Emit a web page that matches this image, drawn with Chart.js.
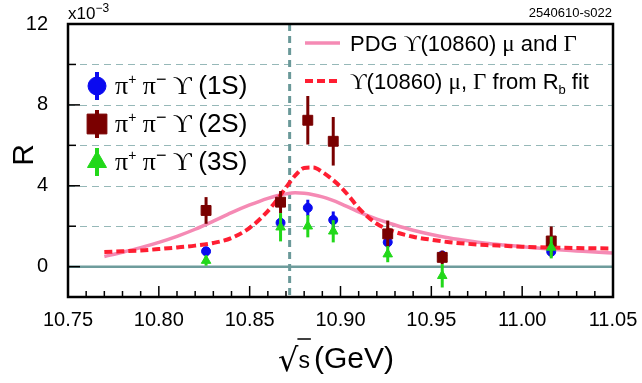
<!DOCTYPE html>
<html>
<head>
<meta charset="utf-8">
<script src="https://cdn.jsdelivr.net/npm/chart.js@4.4.0/dist/chart.umd.min.js"></script>
<style>
  html, body { margin: 0; padding: 0; background: #fff; }
  #wrap { width: 642px; height: 383px; }
</style>
</head>
<body>
<div id="wrap"><canvas id="c" width="642" height="383"></canvas></div>
<script>
// scan points (GeV) and R values in units of 1e-3
var energies = [10.826, 10.867, 10.882, 10.896, 10.926, 10.956, 11.016];
var r1S = [0.76, 2.17, 2.91, 2.31, 1.21, 0.55, 0.74];
var e1S = [0.20, 0.37, 0.40, 0.42, 0.25, 0.22, 0.25];
var r2S = [2.78, 3.19, 7.24, 6.20, 1.62, 0.46, 1.27];
var e2S = [0.66, 0.55, 1.20, 1.20, 0.66, 0.33, 0.72];
var r3S = [0.30, 1.95, 2.00, 1.75, 0.62, -0.45, 0.95];
var e3S = [0.25, 0.70, 0.55, 0.55, 0.40, 0.58, 0.54];

// line shapes: PDG mass/width and the R_b fit values
var curveX = [10.77, 10.78, 10.79, 10.80, 10.81, 10.82, 10.83, 10.84, 10.85, 10.86,
              10.865, 10.87, 10.875, 10.88, 10.885, 10.89, 10.895, 10.90, 10.905, 10.91,
              10.92, 10.93, 10.94, 10.95, 10.96, 10.97, 10.98, 10.99, 11.00, 11.01,
              11.02, 11.03, 11.04, 11.05];
var pdgCurve = [0.50, 0.71, 0.94, 1.20, 1.50, 1.85, 2.25, 2.67, 3.05, 3.38,
                3.51, 3.60, 3.65, 3.63, 3.56, 3.45, 3.30, 3.12, 2.92, 2.71,
                2.35, 2.06, 1.80, 1.59, 1.42, 1.28, 1.16, 1.07, 0.99, 0.91,
                0.84, 0.78, 0.72, 0.67];
var fitCurve = [0.72, 0.76, 0.80, 0.87, 0.95, 1.04, 1.17, 1.42, 1.92, 2.75,
                3.30, 3.92, 4.50, 4.88, 4.90, 4.68, 4.35, 3.95, 3.45, 2.90,
                2.12, 1.72, 1.48, 1.33, 1.21, 1.13, 1.07, 1.03, 0.99, 0.96,
                0.94, 0.92, 0.91, 0.90];

var xTicks = [10.75, 10.80, 10.85, 10.90, 10.95, 11.00, 11.05];
var yTicks = [0, 4, 8, 12];
var gridY = [2, 4, 6, 8, 10];
var peakMass = 10.872;

var SANS = '"Liberation Sans", Arial, Helvetica, sans-serif';
var SERIF = '"Liberation Serif", "DejaVu Serif", serif';
var C1 = '#0a0af0', C2 = '#7a0000', C3 = '#22d81a';
var PINK = '#f58ab4', RED = '#ff1e32', TEAL = '#6e9c9c';

function pts(xs, ys) {
  return xs.map(function (x, i) { return { x: x, y: ys[i] }; });
}

// text made of pieces in different fonts / offsets
function runs(ctx, x, y, parts) {
  parts.forEach(function (p) {
    ctx.font = p.f;
    ctx.fillText(p.t, x, y + (p.dy || 0));
    x += ctx.measureText(p.t).width;
  });
  return x;
}

var decor = {
  id: 'decor',
  beforeDatasetsDraw: function (chart) {
    var ctx = chart.ctx, a = chart.chartArea, xs = chart.scales.x, ys = chart.scales.y;
    ctx.save();
    ctx.strokeStyle = '#96b8b8';
    ctx.lineWidth = 1;
    ctx.setLineDash([7, 5]);
    gridY.forEach(function (v) {
      var y = Math.round(ys.getPixelForValue(v)) + 0.5;
      ctx.beginPath(); ctx.moveTo(a.left, y); ctx.lineTo(a.right, y); ctx.stroke();
    });
    // zero line
    ctx.setLineDash([]);
    ctx.strokeStyle = TEAL;
    ctx.lineWidth = 2.5;
    var y0 = ys.getPixelForValue(0);
    ctx.beginPath(); ctx.moveTo(a.left, y0); ctx.lineTo(a.right, y0); ctx.stroke();
    // resonance mass marker
    ctx.setLineDash([7, 5]);
    ctx.lineWidth = 3;
    ctx.strokeStyle = '#6a9999';
    var xm = xs.getPixelForValue(peakMass);
    ctx.beginPath(); ctx.moveTo(xm, a.top); ctx.lineTo(xm, a.bottom); ctx.stroke();
    ctx.restore();
  },
  beforeDatasetDraw: function (chart, args) {
    var ds = chart.data.datasets[args.index];
    if (!ds.errors) return;
    var ctx = chart.ctx, ys = chart.scales.y;
    var meta = chart.getDatasetMeta(args.index);
    ctx.save();
    ctx.strokeStyle = ds.borderColor;
    ctx.lineWidth = 3;
    meta.data.forEach(function (p, i) {
      var v = ds.data[i].y, e = ds.errors[i];
      ctx.beginPath();
      ctx.moveTo(p.x, ys.getPixelForValue(v + e));
      ctx.lineTo(p.x, ys.getPixelForValue(v - e));
      ctx.stroke();
    });
    ctx.restore();
  },
  afterDraw: function (chart) {
    var ctx = chart.ctx, a = chart.chartArea, xs = chart.scales.x, ys = chart.scales.y;
    ctx.save();
    // tick marks pointing into the frame
    ctx.strokeStyle = '#000';
    ctx.lineWidth = 1.5;
    for (var i = 0; i <= 30; i++) {
      var x = xs.getPixelForValue(10.75 + i * 0.01);
      var len = (i % 5 === 0) ? 11 : 6;
      ctx.beginPath(); ctx.moveTo(x, a.bottom); ctx.lineTo(x, a.bottom - len); ctx.stroke();
    }
    for (var j = 0; j <= 6; j++) {
      var y = ys.getPixelForValue(j * 2);
      var l2 = (j % 2 === 0) ? 12 : 8;
      ctx.beginPath(); ctx.moveTo(a.left, y); ctx.lineTo(a.left + l2, y); ctx.stroke();
    }
    // frame
    ctx.lineWidth = 2.5;
    ctx.strokeRect(a.left, a.top, a.right - a.left, a.bottom - a.top);

    ctx.fillStyle = '#000';
    ctx.textBaseline = 'alphabetic';
    ctx.textAlign = 'left';
    // exponent label
    runs(ctx, 68, 19, [
      { t: 'x10', f: '17px ' + SANS },
      { t: '−3', f: '12px ' + SANS, dy: -7 }
    ]);
    ctx.font = '13px ' + SANS;
    ctx.textAlign = 'right';
    ctx.fillText('2540610-s022', 612, 17);
    ctx.textAlign = 'left';

    // axis titles
    ctx.save();
    ctx.translate(33, 155);
    ctx.rotate(-Math.PI / 2);
    ctx.font = '30px ' + SANS;
    ctx.textAlign = 'center';
    ctx.fillText('R', 0, 0);
    ctx.restore();

    ctx.font = '32px "DejaVu Sans", ' + SANS;
    ctx.fillText('√', 278, 371);
    var rx = 278 + ctx.measureText('√').width;
    ctx.font = '23px ' + SANS;
    ctx.fillText('s', rx, 368);
    var sx = rx + ctx.measureText('s').width;
    ctx.lineWidth = 1.5;
    ctx.beginPath(); ctx.moveTo(rx - 1, 339); ctx.lineTo(sx + 1, 339); ctx.stroke();
    ctx.font = '30px ' + SANS;
    ctx.fillText('(GeV)', sx + 4, 368);

    // left legend: the three final states
    var rows = [
      { c: C1, style: 'circle', r: 9, label: '(1S)', y: 86 },
      { c: C2, style: 'rect', r: 14, label: '(2S)', y: 124 },
      { c: C3, style: 'triangle', r: 11, label: '(3S)', y: 162 }
    ];
    rows.forEach(function (row) {
      ctx.strokeStyle = row.c;
      ctx.fillStyle = row.c;
      ctx.lineWidth = 4;
      ctx.beginPath(); ctx.moveTo(97, row.y - 14); ctx.lineTo(97, row.y + 14); ctx.stroke();
      ctx.lineWidth = 1;
      Chart.helpers.drawPoint(ctx, { pointStyle: row.style, radius: row.r, rotation: 0, borderWidth: 1 }, 97, row.y);
      ctx.fillStyle = '#000';
      runs(ctx, 115, row.y + 8, [
        { t: 'π', f: '26px ' + SERIF },
        { t: '+', f: '14px ' + SANS, dy: -10 },
        { t: ' π', f: '26px ' + SERIF },
        { t: '−', f: '18px ' + SANS, dy: -9 },
        { t: ' ϒ ', f: '26px ' + SERIF },
        { t: row.label, f: '26px ' + SANS }
      ]);
    });

    // right legend: line shapes
    ctx.lineWidth = 3.5;
    ctx.strokeStyle = PINK;
    ctx.beginPath(); ctx.moveTo(305, 43); ctx.lineTo(340, 43); ctx.stroke();
    ctx.strokeStyle = RED;
    ctx.lineWidth = 4;
    ctx.setLineDash([8, 4]);
    ctx.beginPath(); ctx.moveTo(305, 81); ctx.lineTo(340, 81); ctx.stroke();
    ctx.setLineDash([]);
    ctx.fillStyle = '#000';
    runs(ctx, 350, 51, [
      { t: 'PDG ', f: '22px ' + SANS },
      { t: 'ϒ', f: '23px ' + SERIF },
      { t: '(10860) ', f: '22px ' + SANS },
      { t: 'μ', f: '23px ' + SERIF },
      { t: ' and ', f: '22px ' + SANS },
      { t: 'Γ', f: '23px ' + SERIF }
    ]);
    runs(ctx, 350, 89, [
      { t: 'ϒ', f: '23px ' + SERIF },
      { t: '(10860) ', f: '22px ' + SANS },
      { t: 'μ', f: '23px ' + SERIF },
      { t: ', ', f: '22px ' + SANS },
      { t: 'Γ', f: '23px ' + SERIF },
      { t: ' from R', f: '22px ' + SANS },
      { t: 'b', f: '13px ' + SANS, dy: 5 },
      { t: ' fit', f: '22px ' + SANS }
    ]);
    ctx.restore();
  }
};

new Chart(document.getElementById('c'), {
  type: 'scatter',
  data: {
    datasets: [
      { label: 'PDG', data: pts(curveX, pdgCurve), showLine: true, borderColor: PINK,
        borderWidth: 3.5, pointRadius: 0, cubicInterpolationMode: 'monotone', order: 6 },
      { label: 'Rb fit', data: pts(curveX, fitCurve), showLine: true, borderColor: RED,
        borderWidth: 4, borderDash: [8, 4], pointRadius: 0, cubicInterpolationMode: 'monotone', order: 5 },
      { label: '1S', data: pts(energies, r1S), errors: e1S, pointStyle: 'circle', pointRadius: 4.5,
        backgroundColor: C1, borderColor: C1, borderWidth: 1, order: 3 },
      { label: '2S', data: pts(energies, r2S), errors: e2S, pointStyle: 'rect', pointRadius: 7,
        backgroundColor: C2, borderColor: C2, borderWidth: 1, order: 2 },
      { label: '3S', data: pts(energies, r3S), errors: e3S, pointStyle: 'triangle', pointRadius: 5.5,
        backgroundColor: C3, borderColor: C3, borderWidth: 1, order: 1 }
    ]
  },
  options: {
    responsive: false,
    animation: false,
    layout: { padding: { left: 0, right: 29, top: 24, bottom: 0 } },
    plugins: { legend: { display: false }, tooltip: { enabled: false } },
    scales: {
      x: {
        type: 'linear', min: 10.75, max: 11.05,
        grid: { display: false }, border: { display: false },
        afterBuildTicks: function (s) { s.ticks = xTicks.map(function (v) { return { value: v }; }); },
        afterFit: function (s) { s.height = 86; },
        ticks: { color: '#000', padding: 3, maxRotation: 0, font: { family: SANS, size: 20 },
                 callback: function (v) { return Number(v).toFixed(2); } }
      },
      y: {
        type: 'linear', min: -1.5, max: 12,
        grid: { display: false }, border: { display: false },
        afterBuildTicks: function (s) { s.ticks = yTicks.map(function (v) { return { value: v }; }); },
        afterFit: function (s) { s.width = 68; },
        ticks: { color: '#000', padding: 12, font: { family: SANS, size: 20 } }
      }
    }
  },
  plugins: [decor]
});
</script>
</body>
</html>
